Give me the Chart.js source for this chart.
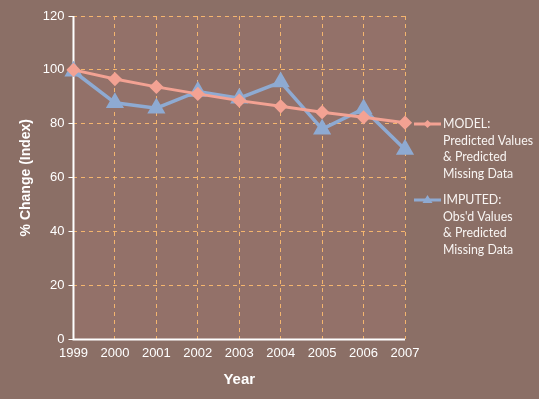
<!DOCTYPE html>
<html>
<head>
<meta charset="utf-8">
<script src="https://cdn.jsdelivr.net/npm/chart.js@4"></script>
<style>
  html, body { margin: 0; padding: 0; background: #8b6f66; }
  #wrap { position: relative; width: 539px; height: 399px; }
</style>
</head>
<body>
<div id="wrap"><canvas id="trendChart" width="539" height="399"></canvas></div>
<script>
var years = ["1999", "2000", "2001", "2002", "2003", "2004", "2005", "2006", "2007"];
var modelValues = [100, 96.6, 93.7, 91.1, 88.6, 86.5, 84.3, 82.4, 80.4];
var imputedValues = [99.5, 87.8, 85.8, 92, 89.5, 95.5, 78, 85.5, 70.5];
var modelLabel = ["MODEL:", "Predicted Values", "& Predicted", "Missing Data"];
var imputedLabel = ["IMPUTED:", "Obs'd Values", "& Predicted", "Missing Data"];

var modelColor = "#f3a293";
var imputedColor = "#8eaad2";
var gridColor = "#f4b56e";

// background + plot area fill
var bgPlugin = {
    id: 'bg',
    beforeDraw: function (chart) {
        var c = chart.ctx, a = chart.chartArea;
        c.save();
        c.fillStyle = "#8b6f66";
        c.fillRect(0, 0, chart.width, chart.height);
        c.fillStyle = "#937169";
        c.fillRect(a.left, a.top, a.right - a.left, a.bottom - a.top);
        c.restore();
    },
    // solid white axis lines (border is hidden so the grid can be dashed)
    beforeDatasetsDraw: function (chart) {
        var c = chart.ctx, a = chart.chartArea;
        c.save();
        c.strokeStyle = "#ffffff";
        c.lineWidth = 2;
        c.setLineDash([]);
        c.beginPath();
        c.moveTo(a.left, a.top);
        c.lineTo(a.left, a.bottom);
        c.lineTo(a.right, a.bottom);
        c.stroke();
        c.restore();
    }
};

// legend on the right, with several lines per entry
var sideLegend = {
    id: 'sideLegend',
    afterDraw: function (chart) {
        var c = chart.ctx;
        var entries = [
            { lines: modelLabel, y: 124, ds: 0 },
            { lines: imputedLabel, y: 200, ds: 1 }
        ];
        c.save();
        c.font = "13px Lato, sans-serif";
        var sx = Math.min(1, 90 / c.measureText("Predicted Values").width);
        entries.forEach(function (e) {
            var ds = chart.data.datasets[e.ds];
            c.strokeStyle = ds.borderColor;
            c.lineWidth = 3;
            c.beginPath();
            c.moveTo(414, e.y);
            c.lineTo(441, e.y);
            c.stroke();
            c.fillStyle = ds.borderColor;
            c.beginPath();
            if (ds.pointStyle === 'triangle') {
                c.moveTo(427.5, e.y - 5);
                c.lineTo(432.5, e.y + 3);
                c.lineTo(422.5, e.y + 3);
            } else {
                c.moveTo(427.5, e.y - 4);
                c.lineTo(431.5, e.y);
                c.lineTo(427.5, e.y + 4);
                c.lineTo(423.5, e.y);
            }
            c.closePath();
            c.fill();
            c.fillStyle = "#f8f4f2";
            c.textBaseline = "middle";
            e.lines.forEach(function (t, i) {
                c.save();
                c.translate(443, e.y + i * 16.5);
                c.scale(sx, 1);
                c.fillText(t, 0, 0);
                c.restore();
            });
        });
        c.restore();
    }
};

new Chart(document.getElementById("trendChart"), {
    type: 'line',
    data: {
        labels: years,
        datasets: [
            {
                label: modelLabel.join(' '),
                data: modelValues,
                borderColor: modelColor,
                backgroundColor: modelColor,
                borderWidth: 3,
                pointStyle: 'rectRot',
                pointRadius: 5,
                pointHoverRadius: 5,
                tension: 0
            },
            {
                label: imputedLabel.join(' '),
                data: imputedValues,
                borderColor: imputedColor,
                backgroundColor: imputedColor,
                borderWidth: 3.5,
                pointStyle: 'triangle',
                pointRadius: 7,
                pointHoverRadius: 7,
                tension: 0
            }
        ]
    },
    options: {
        responsive: false,
        animation: false,
        layout: { padding: { top: 16, right: 134, bottom: 6, left: 14 } },
        plugins: {
            legend: { display: false },
            tooltip: { enabled: false }
        },
        scales: {
            x: {
                offset: false,
                grid: {
                    color: gridColor,
                    lineWidth: 1,
                    drawTicks: false
                },
                border: { display: false, dash: [4, 4] },
                ticks: { color: "#ffffff", font: { family: "Arial", size: 13 }, padding: 6, maxRotation: 0 },
                title: { display: true, text: "Year", color: "#ffffff", font: { family: "Arial", size: 15, weight: "bold" }, padding: { top: 4 } }
            },
            y: {
                min: 0,
                max: 120,
                ticks: { stepSize: 20, color: "#ffffff", font: { family: "Arial", size: 13 }, padding: 4 },
                grid: {
                    color: gridColor,
                    lineWidth: 1,
                    drawTicks: true,
                    tickLength: 5,
                    tickColor: "#ffffff",
                    tickBorderDash: []
                },
                border: { display: false, dash: [4, 4] },
                title: { display: true, text: "% Change (Index)", color: "#ffffff", font: { family: "Arial", size: 14, weight: "bold" }, padding: { bottom: 4 } }
            }
        }
    },
    plugins: [bgPlugin, sideLegend]
});
</script>
</body>
</html>
